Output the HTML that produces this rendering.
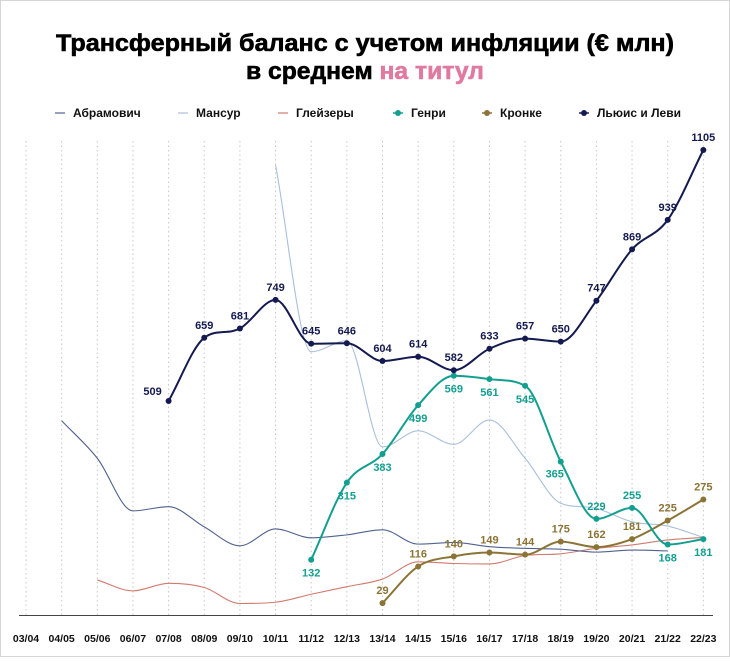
<!DOCTYPE html>
<html><head><meta charset="utf-8">
<style>
html,body{margin:0;padding:0;background:#fff;}
body{width:730px;height:657px;overflow:hidden;font-family:"Liberation Sans","DejaVu Sans",sans-serif;}
#wrap{position:relative;width:728px;height:655px;border:1px solid #d6d6d6;}
</style></head>
<body>
<div id="wrap">
<svg id="chart" width="728" height="655" xmlns="http://www.w3.org/2000/svg">
  <text x="364" y="50" text-anchor="middle" font-size="24" font-weight="bold" fill="#000" textLength="618" lengthAdjust="spacingAndGlyphs" stroke="#000" stroke-width="0.6">Трансферный баланс с учетом инфляции (€ млн)</text>
  <text x="364" y="78" text-anchor="middle" font-size="24" font-weight="bold" fill="#000" textLength="238" lengthAdjust="spacingAndGlyphs" stroke="#000" stroke-width="0.6">в среднем <tspan fill="#e07aa0" stroke="#e07aa0">на титул</tspan></text>
  <g id="legend"></g>
  <g id="grid"></g>
  <g id="series"></g>
  <g id="xaxis"></g>
</svg>
</div>
<script>
const categories = ["03/04","04/05","05/06","06/07","07/08","08/09","09/10","10/11","11/12","12/13","13/14","14/15","15/16","16/17","17/18","18/19","19/20","20/21","21/22","22/23"];
const abramovich = [null,462,373,248,258,210,165,205,184,191,203,169,173,163,159,157,150,155,153,null];
const mansour = [null,null,null,null,null,null,null,1069,626,652,400,438,406,464,373,266,254,222,212,185];
const glazers = [null,null,84,58,76,66,28,31,50,68,86,127,123,122,142,146,159,167,179,185];
const henry = [null,null,null,null,null,null,null,null,132,315,383,499,569,561,545,365,229,255,168,181];
const kronke = [null,null,null,null,null,null,null,null,null,null,29,116,140,149,144,175,162,181,225,275];
const lewis = [null,null,null,null,509,659,681,749,645,646,604,614,582,633,657,650,747,869,939,1105];
const legendLabels = ["Абрамович","Мансур","Глейзеры","Генри","Кронке","Льюис и Леви"];

const NS="http://www.w3.org/2000/svg";
function x(i){return 25 + i*35.65;}
function y(v){return 614.3 - v*0.4211;}
function mk(tag,attrs,parent){const e=document.createElementNS(NS,tag);for(const k in attrs)e.setAttribute(k,attrs[k]);parent.appendChild(e);return e;}

function monotonePath(pts){
  const n=pts.length; if(n<2) return "";
  const dx=[],s=[],m=[];
  for(let i=0;i<n-1;i++){dx[i]=pts[i+1][0]-pts[i][0];s[i]=(pts[i+1][1]-pts[i][1])/dx[i];}
  m[0]=s[0];m[n-1]=s[n-2];
  for(let i=1;i<n-1;i++){ if(s[i-1]*s[i]<=0) m[i]=0; else { m[i]=(s[i-1]+s[i])/2; const a=m[i]/s[i-1],b=m[i]/s[i]; const h=a*a+b*b; if(h>9){const t=3/Math.sqrt(h);m[i]=t*a*s[i-1];} } }
  let d="M"+pts[0][0]+","+pts[0][1];
  for(let i=0;i<n-1;i++){const h=dx[i]/3;d+=" C"+(pts[i][0]+h)+","+(pts[i][1]+m[i]*h)+" "+(pts[i+1][0]-h)+","+(pts[i+1][1]-m[i+1]*h)+" "+pts[i+1][0]+","+pts[i+1][1];}
  return d;
}

const grid=document.getElementById('grid');
categories.forEach((c,i)=>{
  const l=mk('line',{x1:x(i),x2:x(i),y1:140,y2:614,stroke:'#c8c8c8','stroke-width':1,'stroke-dasharray':'1.5 3'},grid);
  
  
});
const xa=document.getElementById('xaxis');
const ax=mk('line',{x1:18,x2:712,y1:614.5,y2:614.5,stroke:'#444','stroke-width':1},xa);


categories.forEach((c,i)=>{
  const t=mk('text',{x:x(i),y:641,'text-anchor':'middle','font-size':10.5,'font-weight':'bold',fill:'#111'},xa);
  t.textContent=c;
  
  
});

const sg=document.getElementById('series');
function drawSeries(vals,name,color,width,dots,labelPos){
  const pts=[];const idx=[];
  vals.forEach((v,i)=>{if(v!==null){pts.push([x(i),y(v)]);idx.push(i);}});
  const p=mk('path',{d:monotonePath(pts),fill:'none',stroke:color,'stroke-width':width,'stroke-linejoin':'round'},sg);
  
  
  if(!dots) return;
  pts.forEach((pt,k)=>{
    const c=mk('circle',{cx:pt[0],cy:pt[1],r:3,fill:color},sg);
    
    
    const v=vals[idx[k]];
    const pos=labelPos(v,idx[k]);
    const t=mk('text',{x:pt[0]+pos[0],y:pt[1]+pos[1],'text-anchor':'middle','font-size':11,'font-weight':'bold',fill:color},sg);
    t.textContent=v;
    
    
  });
}
drawSeries(glazers,'glazers','#d27a6e',1.1,false);
drawSeries(abramovich,'abramovich','#4f6290',1.1,false);
drawSeries(mansour,'mansour','#a9c0da',1.1,false);
drawSeries(kronke,'kronke','#8b7436',2,true,(v,i)=>[0,-9]);
drawSeries(henry,'henry','#139f8f',2,true,(v,i)=>{ if(i===16||i===17) return [0,-9]; if(i===15) return [-6,16]; return [0,17];});
drawSeries(lewis,'lewis','#141a4f',2,true,(v,i)=>{ if(i===4) return [-16,-6]; return [0,-9];});

const lg=document.getElementById('legend');
const legendColors=['#4f6290','#a9c0da','#d27a6e','#139f8f','#8b7436','#141a4f'];
const legendX=[54,177,277,392,481,578];
legendLabels.forEach((lab,i)=>{
  const g=mk('g',{},lg);
  
  
  if(i<3){mk('line',{x1:legendX[i],x2:legendX[i]+10,y1:112,y2:112,stroke:legendColors[i],'stroke-width':1.2},g);}
  else{mk('line',{x1:legendX[i],x2:legendX[i]+10,y1:112,y2:112,stroke:legendColors[i],'stroke-width':1.5},g);mk('circle',{cx:legendX[i]+5,cy:112,r:3,fill:legendColors[i]},g);}
  const t=mk('text',{x:legendX[i]+18,y:116,'font-size':12,'font-weight':'bold',fill:'#111'},g);
  t.textContent=lab;
});
</script>
</body></html>
